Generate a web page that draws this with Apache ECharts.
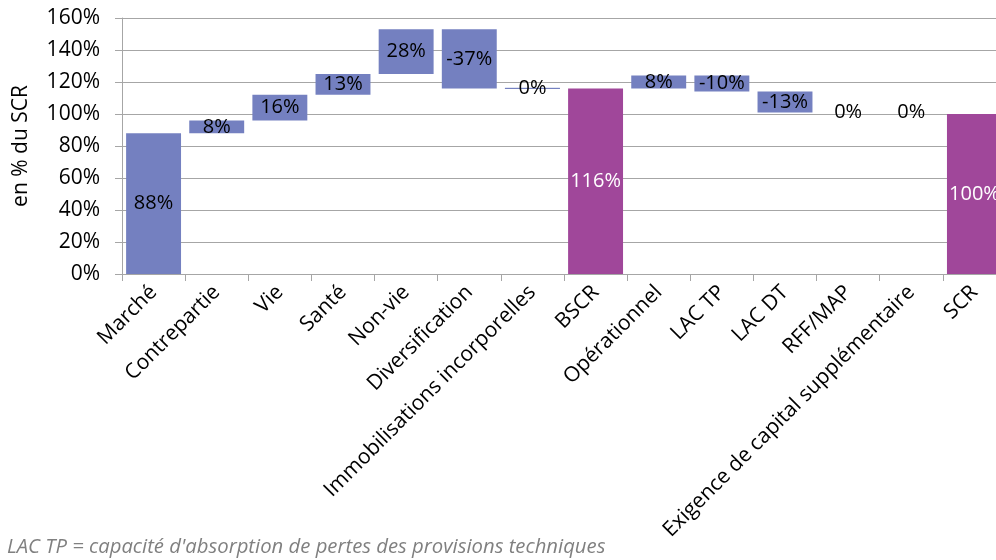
<!DOCTYPE html>
<html>
<head>
<meta charset="utf-8">
<script src="https://cdn.jsdelivr.net/npm/echarts@6/dist/echarts.min.js"></script>
<style>
  html, body { margin: 0; padding: 0; background: #fff; overflow: hidden; }
  /* the plot runs a little past the right edge of the page */
  #chart { width: 1006px; height: 560px; }
</style>
</head>
<body>
<div id="chart"></div>
<script>
// SCR breakdown, as a waterfall (values in % of SCR)
const categories = [
  'Marché', 'Contrepartie', 'Vie', 'Santé', 'Non-vie', 'Diversification',
  'Immobilisations incorporelles', 'BSCR', 'Opérationnel', 'LAC TP', 'LAC DT',
  'RFF/MAP', 'Exigence de capital supplémentaire', 'SCR'
];
const deltas = [88, 8, 16, 13, 28, -37, 0, 116, 8, -10, -13, 0, 0, 100];
// bars that are totals start from zero
const totals = [false, false, false, false, false, false, false, true, false, false, false, false, false, true];
const yTicks = [0, 20, 40, 60, 80, 100, 120, 140, 160];

const BLUE = '#7480C0';
const PURPLE = '#A0479A';
const FONT = '"Open Sans", "Noto Sans", sans-serif';

// build invisible offsets and visible heights
const base = [];
const height = [];
let running = 0;
deltas.forEach((d, i) => {
  if (totals[i]) {
    base.push(0);
    height.push(d);
    running = d;
  } else {
    const end = running + d;
    base.push(Math.min(running, end));
    height.push(Math.abs(d));
    running = end;
  }
});

const visible = height.map((h, i) => {
  const item = {
    value: h,
    itemStyle: { color: totals[i] ? PURPLE : BLUE },
    label: { color: totals[i] ? '#ffffff' : '#000000' }
  };
  if (h === 0 && i === 6) {
    item.itemStyle.borderColor = BLUE;
    item.itemStyle.borderWidth = 1;
  }
  return item;
});

const chart = echarts.init(document.getElementById('chart'), null, { renderer: 'canvas' });
chart.setOption({
  animation: false,
  grid: { left: 122, right: 0, top: 18, bottom: 286, containLabel: false },
  xAxis: {
    type: 'category',
    data: categories,
    axisLine: { lineStyle: { color: '#a6a6a6', width: 1 } },
    axisTick: { show: true, length: 7, lineStyle: { color: '#a6a6a6' } },
    axisLabel: {
      rotate: 45, interval: 0, margin: 15,
      color: '#000', fontFamily: FONT, fontSize: 21
    }
  },
  yAxis: {
    type: 'value',
    min: yTicks[0], max: yTicks[yTicks.length - 1], interval: 20,
    name: 'en % du SCR',
    nameLocation: 'middle',
    nameGap: 90,
    nameRotate: 90,
    nameTextStyle: { color: '#000', fontFamily: FONT, fontSize: 21 },
    axisLine: { show: true, lineStyle: { color: '#a6a6a6', width: 1 } },
    axisTick: { show: true, length: 7, lineStyle: { color: '#a6a6a6' } },
    axisLabel: {
      margin: 22, color: '#000', fontFamily: FONT, fontSize: 21,
      formatter: v => v + '%'
    },
    splitLine: { lineStyle: { color: '#a6a6a6', width: 1 } }
  },
  series: [
    {
      type: 'bar', stack: 'wf', data: base,
      itemStyle: { color: 'transparent' },
      barCategoryGap: '13%',
      silent: true
    },
    {
      type: 'bar', stack: 'wf', data: visible,
      barCategoryGap: '13%',
      label: {
        show: true, position: 'inside',
        fontFamily: FONT, fontSize: 20,
        formatter: p => deltas[p.dataIndex] + '%'
      }
    }
  ],
  graphic: [{
    type: 'text', left: 7, top: 537,
    style: {
      text: "LAC TP = capacité d'absorption de pertes des provisions techniques",
      fill: '#808080', font: 'italic 20.3px ' + FONT
    }
  }]
});
</script>
</body>
</html>
